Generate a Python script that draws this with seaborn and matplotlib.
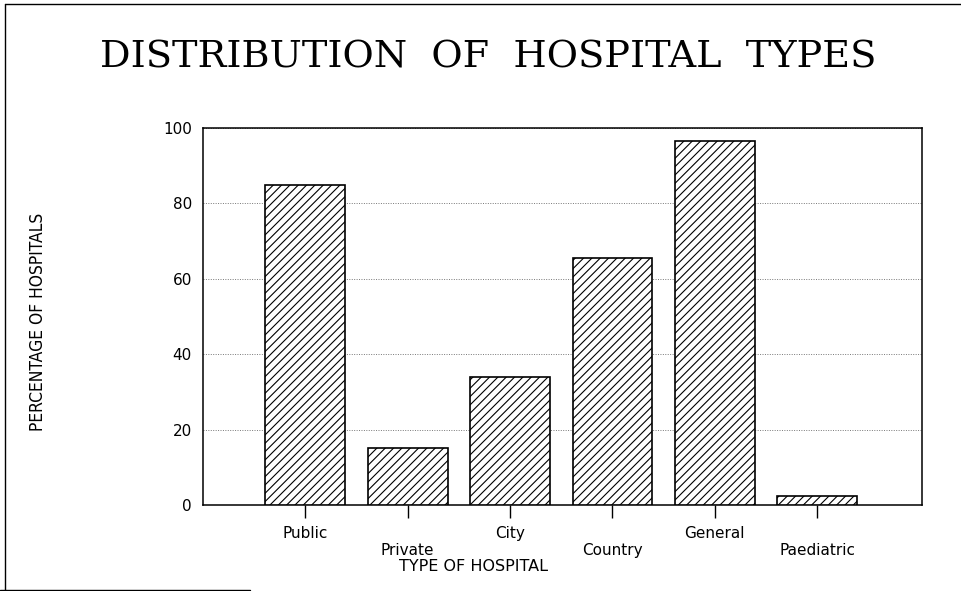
import matplotlib
matplotlib.use("Agg")
import matplotlib.pyplot as plt
import seaborn as sns
import pandas as pd
from matplotlib.lines import Line2D

# values
hospital_types = ["Public", "Private", "City", "Country", "General", "Paediatric"]
percentages = [85, 15, 34, 65.5, 96.5, 2.5]
y_ticks = [0, 20, 40, 60, 80, 100]

df = pd.DataFrame({"type": hospital_types, "pct": percentages})

sns.set_style("white")
plt.rcParams['font.family'] = ['DejaVu Sans']
plt.rcParams['hatch.linewidth'] = 0.8
plt.rcParams['text.color'] = 'black'
plt.rcParams['xtick.color'] = 'black'
plt.rcParams['ytick.color'] = 'black'

fig = plt.figure(figsize=(9.62, 5.91), dpi=100)
ax = fig.add_axes([0.211, 0.1455, 0.747, 0.638])

sns.barplot(data=df, x="type", y="pct", ax=ax, color="white",
            edgecolor="black", linewidth=1.2, hatch="////", width=0.78,
            zorder=3)

ax.set_ylim(0, 100)
ax.set_xlim(-1.0, 6.02)
ax.set_yticks(y_ticks)
ax.set_yticklabels([str(t) for t in y_ticks], fontsize=11)
ax.tick_params(axis="y", length=0, pad=8)

# staggered category labels, every second one pushed down a line
labels = [t if i % 2 == 0 else "\n" + t for i, t in enumerate(hospital_types)]
ax.set_xticks(range(len(hospital_types)))
ax.set_xticklabels(labels, fontsize=11)
ax.tick_params(axis="x", direction="out", length=9, width=1, color="black", pad=6,
               bottom=True)

ax.set_xlabel("")
ax.set_ylabel("")
ax.yaxis.grid(True, linestyle=(0, (1, 1.5)), color="#777777", linewidth=0.7, zorder=0)
ax.set_axisbelow(True)
for s in ax.spines.values():
    s.set_visible(True)
    s.set_color("black")
    s.set_linewidth(1.1)

fig.text(0.507, 0.902, "DISTRIBUTION  OF  HOSPITAL  TYPES", ha="center", va="center",
         fontsize=27.5, family=["DejaVu Serif"])
fig.text(0.492, 0.042, "TYPE OF HOSPITAL", ha="center", va="center", fontsize=11.5)
fig.text(0.039, 0.455, "PERCENTAGE OF HOSPITALS", ha="center", va="center",
         rotation=90, fontsize=12.5, fontstretch="condensed",
         family=["DejaVu Sans"])

# page frame
fig.add_artist(Line2D([0.005, 1.0], [0.993, 0.993], transform=fig.transFigure,
                      color="black", linewidth=1))
fig.add_artist(Line2D([0.005, 0.005], [0.0, 0.993], transform=fig.transFigure,
                      color="black", linewidth=1))
fig.add_artist(Line2D([0.0, 0.26], [0.002, 0.002], transform=fig.transFigure,
                      color="black", linewidth=1))

fig.savefig("out.png", dpi=100)
